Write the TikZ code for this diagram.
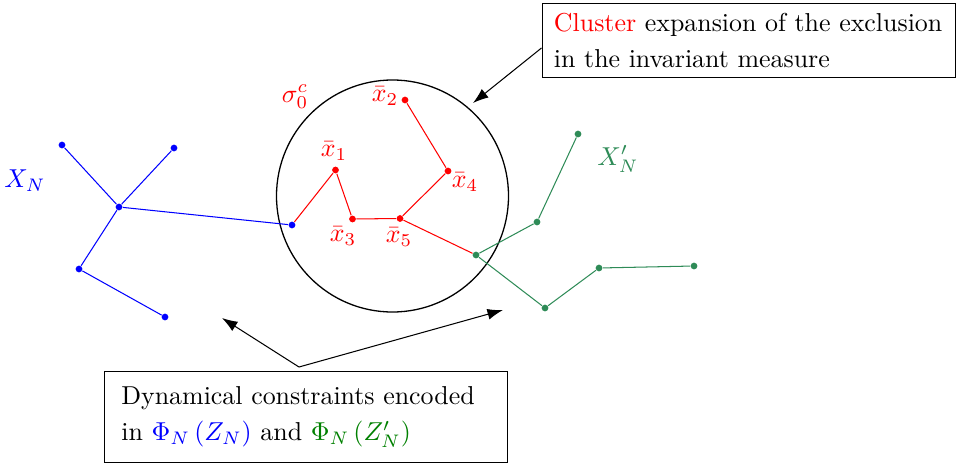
\documentclass[tikz,border=0pt]{standalone}
\usetikzlibrary{arrows.meta}
\definecolor{treegreen}{RGB}{46,139,87}
\definecolor{txtgreen}{RGB}{0,128,0}
\begin{document}
\begin{tikzpicture}[x=0.386pt,y=-0.386pt,
  dot/.style={circle,fill,inner sep=0pt,minimum size=2.6pt},
  edge/.style={line width=0.4pt},
  arr/.style={line width=0.4pt,-{Latex[length=6pt,width=4.2pt]}},
  box/.style={draw,line width=0.4pt,anchor=north west,align=left,inner ysep=0pt,font={\fontsize{10}{13.9}\selectfont}},
  lab/.style={inner sep=0pt}]
\useasboundingbox (0,0) rectangle (956,465);
% circle
\node[draw,circle,line width=0.5pt,minimum size=232*0.386pt,inner sep=0pt] (circ) at (392.5,196) {};
% blue tree
\begin{scope}[blue]
\node[dot] (b1) at (62,145) {};
\node[dot] (b2) at (174,148) {};
\node[dot] (b3) at (119,207) {};
\node[dot] (b4) at (79,269) {};
\node[dot] (b5) at (165,317) {};
\node[dot] (b6) at (292,225) {};
\draw[edge] (b1) -- (b3) (b2) -- (b3) (b3) -- (b4) (b4) -- (b5) (b3) -- (b6);
\node[lab] (lxn) at (25,181) {$X_N$};
\end{scope}
% red cluster
\begin{scope}[red]
\node[dot] (r1) at (335.5,170) {};
\node[dot] (r2) at (405,100) {};
\node[dot] (r3) at (352.5,219) {};
\node[dot] (r4) at (448,171) {};
\node[dot] (r5) at (400,218.5) {};
\node[dot,treegreen] (g0) at (476,255) {};
\draw[edge] (b6) -- (r1) -- (r3) -- (r5) -- (r4) -- (r2) (r5) -- (g0);
\node[lab] (l1) at (334,151) {$\bar x_1$};
\node[lab] (l2) at (385,96) {$\bar x_2$};
\node[lab] (l3) at (343,236) {$\bar x_3$};
\node[lab] (l4) at (465,182) {$\bar x_4$};
\node[lab] (l5) at (399,237) {$\bar x_5$};
\node[lab] (ls) at (295,97) {$\sigma_0^c$};
\end{scope}
% green tree
\begin{scope}[treegreen]
\node[dot] (g1) at (537,222) {};
\node[dot] (g2) at (578,134) {};
\node[dot] (g3) at (545,308) {};
\node[dot] (g4) at (599,268) {};
\node[dot] (g5) at (694,266) {};
\draw[edge] (g0) -- (g1) -- (g2) (g0) -- (g3) -- (g4) -- (g5);
\node[lab] (lxn2) at (618,159) {$X'_N$};
\end{scope}
% top box
\node[box,inner xsep=4.6pt,text width=150.5pt,minimum height=74*0.386pt] (tb) at (541.5,3) {\textcolor{red}{Cluster} expansion of the exclusion\\in the invariant measure};
\coordinate (ta) at (541.5,48);
\coordinate (tt) at (473,103);
\draw[arr] (ta) -- (tt);
% bottom box
\node[box,inner xsep=6.5pt,text width=142.5pt,minimum height=91*0.386pt] (bb) at (104,371) {Dynamical constraints encoded\\in \textcolor{blue}{$\Phi_N\left(Z_N\right)$} and \textcolor{txtgreen}{$\Phi_N\left(Z'_N\right)$}};
\coordinate (bj) at (299,367);
\coordinate (bl) at (222,318);
\coordinate (br) at (503,310);
\draw[arr] (bj) -- (bl);
\draw[arr] (bj) -- (br);
\end{tikzpicture}
\end{document}
